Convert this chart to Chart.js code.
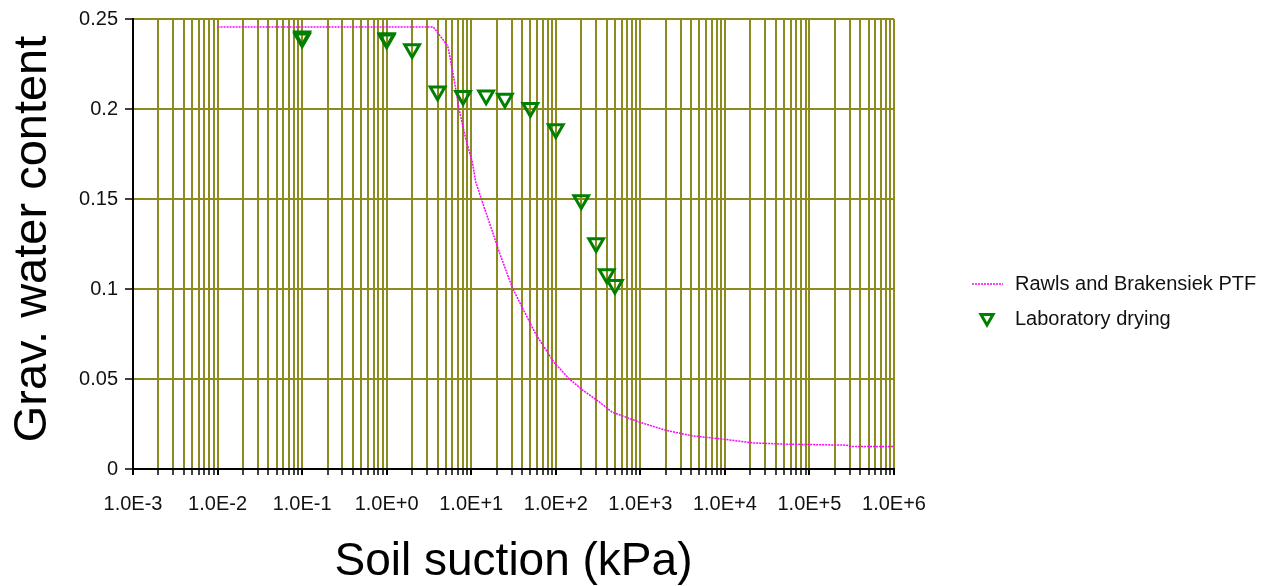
<!DOCTYPE html>
<html>
<head>
<meta charset="utf-8">
<title>Soil water retention</title>
<script src="https://cdn.jsdelivr.net/npm/chart.js@4.4.0/dist/chart.umd.min.js"></script>
<style>
  html, body { margin: 0; padding: 0; background: #fff; }
</style>
</head>
<body>
<canvas id="chart" width="1275" height="586"></canvas>
<script>
const FONT = 'Arial, "Liberation Sans", sans-serif';
const OLIVE = "#8c8c1e";

// Rawls and Brakensiek PTF curve (suction kPa, grav. water content)
const ptfSuction = [0.01, 3.56, 5.28, 5.57, 6.26, 7.17, 8.61, 10.3, 11.3, 13.5, 17.8, 21.3, 30.7, 40.2, 58, 95.5, 144, 206, 326, 464, 968, 2000, 4140, 10240, 21200, 52800, 270000, 323000, 1000000];
const ptfWater = [0.2456, 0.2456, 0.235, 0.2295, 0.2166, 0.2, 0.1834, 0.1706, 0.1595, 0.1485, 0.1319, 0.1209, 0.1006, 0.0896, 0.0749, 0.0592, 0.0501, 0.044, 0.0373, 0.0316, 0.0261, 0.0215, 0.0184, 0.0164, 0.0145, 0.0138, 0.01325, 0.01253, 0.01253];

// Laboratory drying measurements
const labSuction = [0.1, 0.1, 1, 1, 2, 4, 8, 15, 25, 50, 100, 200, 300, 400, 500];
const labWater = [0.2404, 0.2393, 0.2395, 0.2388, 0.2333, 0.2098, 0.2073, 0.2076, 0.2059, 0.2007, 0.1889, 0.1494, 0.1255, 0.1084, 0.1023];

// axes
const decades = [-3, -2, -1, 0, 1, 2, 3, 4, 5, 6];
const xTickLabels = ["1.0E-3", "1.0E-2", "1.0E-1", "1.0E+0", "1.0E+1", "1.0E+2", "1.0E+3", "1.0E+4", "1.0E+5", "1.0E+6"];
const yTickLabels = ["0", "0.05", "0.1", "0.15", "0.2", "0.25"];
const xTitle = "Soil suction (kPa)";
const yTitle = "Grav. water content";
const seriesNames = ["Rawls and Brakensiek PTF", "Laboratory drying"];

function toPoints(xs, ys) {
  var pts = [];
  for (var i = 0; i < xs.length; i++) pts.push({ x: xs[i], y: ys[i] });
  return pts;
}

// axis titles + legend are drawn by hand so they sit where the original has them
const decorations = {
  id: "decorations",
  afterDraw(chart) {
    const ctx = chart.ctx;
    const area = chart.chartArea;
    ctx.save();
    ctx.fillStyle = "#000";

    ctx.save();
    ctx.translate(46, 239);
    ctx.rotate(-Math.PI / 2);
    ctx.font = "47px " + FONT;
    ctx.textAlign = "center";
    ctx.textBaseline = "alphabetic";
    ctx.fillText(yTitle, 0, 0);
    ctx.restore();

    ctx.font = "46px " + FONT;
    ctx.textAlign = "center";
    ctx.textBaseline = "alphabetic";
    ctx.fillText(xTitle, (area.left + area.right) / 2, 575);

    // legend
    ctx.save();
    ctx.strokeStyle = "#ff00ff";
    ctx.lineWidth = 1.5;
    ctx.setLineDash([2, 1]);
    ctx.beginPath();
    ctx.moveTo(972, 284);
    ctx.lineTo(1003, 284);
    ctx.stroke();
    ctx.restore();

    ctx.save();
    ctx.strokeStyle = "#008000";
    ctx.fillStyle = "rgba(0,0,0,0)";
    ctx.lineWidth = 3;
    Chart.helpers.drawPoint(ctx, { pointStyle: "triangle", rotation: 180, radius: 7, borderWidth: 3 }, 987, 318);
    ctx.restore();

    ctx.font = "20px " + FONT;
    ctx.textAlign = "left";
    ctx.textBaseline = "middle";
    ctx.fillStyle = "#111";
    ctx.fillText(seriesNames[0], 1015, 284);
    ctx.fillText(seriesNames[1], 1015, 319);
    ctx.restore();
  },
};

const ctx = document.getElementById("chart").getContext("2d");
const chart = new Chart(ctx, {
  type: "scatter",
  data: {
    datasets: [
      {
        label: seriesNames[0],
        data: toPoints(ptfSuction, ptfWater),
        showLine: true,
        borderColor: "#ff00ff",
        borderWidth: 1.5,
        borderDash: [2, 1],
        pointRadius: 0,
        tension: 0,
        order: 2,
      },
      {
        label: seriesNames[1],
        data: toPoints(labSuction, labWater),
        showLine: false,
        pointStyle: "triangle",
        rotation: 180,
        pointRadius: 8.5,
        borderWidth: 3,
        borderColor: "#008000",
        backgroundColor: "rgba(0,0,0,0)",
        order: 1,
      },
    ],
  },
  options: {
    responsive: false,
    animation: false,
    events: [],
    layout: { padding: { left: 0, right: 381, top: 16, bottom: 0 } },
    plugins: {
      legend: { display: false },
      tooltip: { enabled: false },
    },
    scales: {
      x: {
        type: "logarithmic",
        min: 1e-3,
        max: 1e6,
        afterFit: function (scale) {
          scale.height = 117;
        },
        afterBuildTicks: function (scale) {
          var ticks = [];
          for (var i = 0; i < decades.length; i++) {
            var base = Math.pow(10, decades[i]);
            ticks.push({ value: base, major: true });
            if (i < decades.length - 1) {
              for (var m = 2; m <= 9; m++) ticks.push({ value: m * base, major: false });
            }
          }
          scale.ticks = ticks;
        },
        ticks: {
          autoSkip: false,
          maxRotation: 0,
          minRotation: 0,
          padding: 17,
          color: "#111",
          font: { family: FONT, size: 20 },
          callback: function (value, index, ticks) {
            if (!ticks[index].major) return "";
            return xTickLabels[decades.indexOf(Math.round(Math.log10(value)))];
          },
        },
        grid: {
          color: OLIVE,
          lineWidth: 2,
          drawTicks: true,
          tickLength: 6,
          tickColor: "#000",
          tickWidth: function (c) {
            return c.tick && c.tick.major ? 2 : 1.5;
          },
        },
        border: { display: true, color: "#000", width: 2 },
      },
      y: {
        min: 0,
        max: 0.25,
        afterFit: function (scale) {
          scale.width = 133;
        },
        ticks: {
          stepSize: 0.05,
          padding: 7,
          color: "#111",
          font: { family: FONT, size: 20 },
          callback: function (value, index) {
            return yTickLabels[index];
          },
        },
        grid: {
          color: OLIVE,
          lineWidth: 2,
          drawTicks: true,
          tickLength: 8,
          tickColor: "#000",
          tickWidth: 1.5,
        },
        border: { display: true, color: "#000", width: 2 },
      },
    },
  },
  plugins: [decorations],
});
</script>
</body>
</html>
